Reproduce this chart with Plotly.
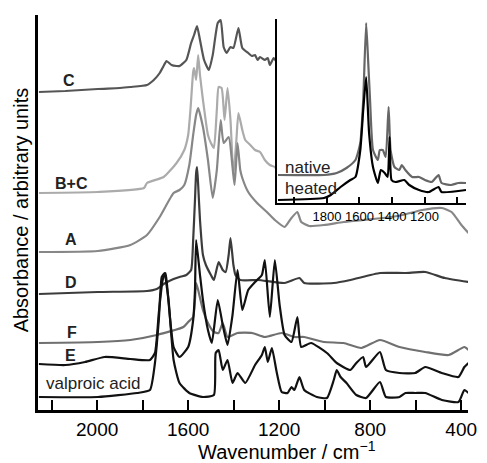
import plotly.graph_objects as go

# ---------------- data (wavenumber / cm-1, absorbance arbitrary units, offset stacked) -------------
c_x = [2256, 2140, 1997, 1900, 1854, 1781, 1751, 1725, 1708, 1695, 1673, 1651, 1638, 1608, 1587, 1574,
       1561, 1548, 1530, 1509, 1492, 1470, 1457, 1444, 1431, 1414, 1401, 1379, 1362, 1336, 1320, 1306,
       1295, 1284, 1263, 1250, 1241, 1224, 1211]
c_y = [3.18, 3.19, 3.21, 3.22, 3.23, 3.25, 3.30, 3.37, 3.44, 3.49, 3.45, 3.44, 3.44, 3.50, 3.67, 3.75,
       3.84, 3.70, 3.50, 3.40, 3.55, 3.87, 3.90, 3.63, 3.57, 3.63, 3.62, 3.82, 3.62, 3.57, 3.54, 3.55,
       3.50, 3.53, 3.50, 3.52, 3.45, 3.52, 3.48]

bc_x = [2256, 1997, 1794, 1781, 1708, 1651, 1617, 1600, 1590, 1578, 1574, 1565, 1556, 1548, 1535, 1513,
        1500, 1487, 1474, 1466, 1453, 1440, 1427, 1414, 1401, 1388, 1379, 1362, 1349, 1327, 1306, 1284,
        1263, 1241, 1219, 1211]
bc_y = [2.17, 2.18, 2.22, 2.27, 2.33, 2.47, 2.60, 2.75, 3.00, 3.38, 3.42, 3.30, 3.55, 3.35, 3.10, 2.75,
        2.67, 2.62, 3.00, 3.23, 3.22, 2.90, 3.22, 2.90, 2.35, 2.70, 2.97, 2.80, 2.70, 2.65, 2.60, 2.58,
        2.50, 2.45, 2.43, 2.40]

a_x = [2256, 1997, 1854, 1781, 1725, 1664, 1638, 1617, 1595, 1578, 1565, 1556, 1535, 1513, 1492, 1474,
       1457, 1444, 1422, 1405, 1396, 1383, 1371, 1362, 1336, 1297, 1254, 1219, 1176, 1146, 1120, 1103,
       1068, 1003, 917, 831, 744, 658, 571, 485, 442, 399, 368]
a_y = [1.58, 1.59, 1.65, 1.75, 1.93, 2.17, 2.20, 2.25, 2.45, 2.75, 2.95, 3.02, 2.83, 2.50, 2.12, 2.40,
       2.90, 2.67, 2.73, 2.43, 2.25, 2.67, 2.40, 2.32, 2.18, 2.07, 1.98, 1.90, 1.83, 1.92, 1.98, 1.88,
       1.84, 1.85, 1.88, 1.90, 1.92, 1.95, 2.00, 2.02, 1.98, 1.85, 1.77]

d_x = [2256, 1997, 1781, 1738, 1708, 1664, 1638, 1608, 1587, 1578, 1570, 1565, 1561, 1556, 1548, 1535,
       1522, 1500, 1487, 1466, 1448, 1435, 1422, 1414, 1401, 1392, 1371, 1293, 1176, 1111, 1090, 960,
       887, 757, 645, 558, 472, 368]
d_y = [1.16, 1.18, 1.19, 1.21, 1.26, 1.31, 1.33, 1.35, 1.40, 1.70, 2.10, 2.37, 2.43, 2.25, 1.90, 1.55,
       1.45, 1.35, 1.30, 1.48, 1.40, 1.38, 1.55, 1.72, 1.45, 1.35, 1.30, 1.30, 1.27, 1.32, 1.27, 1.27,
       1.30, 1.37, 1.37, 1.38, 1.32, 1.28]

f_x = [2256, 1997, 1854, 1738, 1621, 1600, 1578, 1570, 1565, 1556, 1535, 1513, 1487, 1466, 1448, 1427,
       1383, 1319, 1263, 1189, 1133, 1090, 1003, 917, 839, 757, 671, 558, 455, 386, 368]
f_y = [0.67, 0.68, 0.70, 0.75, 0.83, 0.88, 0.93, 1.10, 1.27, 1.20, 1.00, 0.87, 0.78, 0.77, 0.87, 0.73,
       0.77, 0.77, 0.73, 0.77, 0.73, 0.73, 0.68, 0.67, 0.62, 0.70, 0.63, 0.58, 0.55, 0.63, 0.60]

e_x = [2256, 2140, 2053, 1967, 1854, 1768, 1746, 1729, 1712, 1699, 1686, 1664, 1638, 1600, 1578, 1570,
       1565, 1548, 1535, 1513, 1496, 1470, 1448, 1427, 1405, 1383, 1362, 1336, 1306, 1276, 1263, 1241,
       1219, 1198, 1176, 1146, 1120, 1103, 1060, 990, 947, 887, 861, 831, 818, 757, 731, 671, 602, 558,
       485, 412, 386, 368]
e_y = [0.46, 0.45, 0.48, 0.53, 0.51, 0.50, 0.57, 0.97, 1.30, 1.37, 1.07, 0.63, 0.53, 0.63, 0.90, 1.20,
       1.70, 1.35, 1.10, 0.80, 0.67, 1.10, 0.85, 0.65, 0.95, 1.40, 1.00, 1.20, 1.28, 1.35, 1.50, 0.93,
       1.50, 1.05, 0.75, 0.68, 0.93, 0.63, 0.67, 0.57, 0.47, 0.40, 0.47, 0.53, 0.43, 0.58, 0.40, 0.37,
       0.37, 0.43, 0.37, 0.33, 0.43, 0.47]

v_x = [2256, 1997, 1824, 1768, 1746, 1729, 1716, 1703, 1695, 1686, 1664, 1638, 1595, 1535, 1487, 1479,
       1466, 1448, 1427, 1405, 1383, 1349, 1306, 1276, 1263, 1250, 1232, 1211, 1189, 1163, 1146, 1133,
       1111, 1090, 1034, 990, 960, 947, 930, 904, 861, 818, 757, 731, 671, 645, 602, 558, 485, 412, 386,
       368]
v_y = [0.13, 0.13, 0.17, 0.20, 0.47, 0.90, 1.33, 1.37, 1.25, 1.10, 0.50, 0.27, 0.17, 0.13, 0.15, 0.57,
       0.60, 0.40, 0.50, 0.27, 0.37, 0.27, 0.45, 0.55, 0.63, 0.48, 0.62, 0.38, 0.18, 0.17, 0.23, 0.20,
       0.33, 0.20, 0.13, 0.12, 0.30, 0.40, 0.33, 0.27, 0.15, 0.12, 0.28, 0.13, 0.13, 0.17, 0.17, 0.17,
       0.10, 0.08, 0.20, 0.17]

# inset
nat_x = [2101, 1818, 1740, 1680, 1625, 1595, 1577, 1559, 1547, 1535, 1517, 1487, 1475, 1457, 1439, 1421,
         1409, 1385, 1355, 1340, 1318, 1276, 1234, 1198, 1156, 1114, 1096, 1037, 993, 945]
nat_y = [0.28, 0.28, 0.30, 0.35, 0.43, 0.60, 1.03, 1.80, 1.43, 1.03, 0.53, 0.43, 0.53, 0.53, 0.46, 0.96,
         0.53, 0.36, 0.33, 0.38, 0.33, 0.26, 0.26, 0.23, 0.21, 0.28, 0.20, 0.18, 0.20, 0.20]
heat_x = [2101, 1818, 1776, 1716, 1656, 1625, 1595, 1577, 1559, 1541, 1517, 1487, 1469, 1445, 1427, 1415,
          1403, 1379, 1324, 1294, 1234, 1174, 1114, 1096, 945]
heat_y = [0.03, 0.05, 0.08, 0.16, 0.23, 0.26, 0.53, 0.93, 1.26, 0.70, 0.36, 0.20, 0.33, 0.30, 0.26, 0.66,
          0.23, 0.21, 0.23, 0.18, 0.13, 0.11, 0.16, 0.11, 0.13]

main_major = [2000, 1600, 1200, 800, 400]
main_minor = [2200, 1800, 1400, 1000, 600]
inset_major = [1800, 1600, 1400, 1200]
inset_minor = [2000, 1000]

series = [
    ("C", c_x, c_y, "#555555"),
    ("B+C", bc_x, bc_y, "#ababab"),
    ("A", a_x, a_y, "#878787"),
    ("D", d_x, d_y, "#3c3c3c"),
    ("F", f_x, f_y, "#707070"),
    ("E", e_x, e_y, "#111111"),
    ("valproic acid", v_x, v_y, "#111111"),
]

# ---------------- figure -------------
W, H = 487, 463
ML, MR, MT, MB = 38, 10, 15, 53
PW, PH = W - ML - MR, H - MT - MB


def px(x):
    return (x - ML) / PW


def py(y):
    return (H - MB - y) / PH


fig = go.Figure()
for name, xs, ys, col in series:
    fig.add_trace(go.Scatter(x=xs, y=ys, mode="lines", name=name,
                             line=dict(color=col, width=2.2, shape="spline", smoothing=0.5),
                             xaxis="x", yaxis="y"))

fig.add_trace(go.Scatter(x=nat_x, y=nat_y, mode="lines", name="native",
                         line=dict(color="#666666", width=2.2, shape="spline", smoothing=0.5),
                         xaxis="x2", yaxis="y2"))
fig.add_trace(go.Scatter(x=heat_x, y=heat_y, mode="lines", name="heated",
                         line=dict(color="#000000", width=2.2, shape="spline", smoothing=0.5),
                         xaxis="x2", yaxis="y2"))

font_main = "Liberation Sans, Arial, sans-serif"

fig.update_layout(
    width=W, height=H,
    margin=dict(l=ML, r=MR, t=MT, b=MB),
    paper_bgcolor="white", plot_bgcolor="white",
    showlegend=False,
    font=dict(family=font_main, color="black", size=19),
    xaxis=dict(domain=[0, 1], range=[2260, 370], tickmode="array", tickvals=main_major,
               ticks="inside", ticklen=10, tickwidth=2, tickcolor="black", tickangle=0,
               minor=dict(tickmode="array", tickvals=main_minor, ticks="inside", ticklen=10,
                          tickwidth=2, tickcolor="black", showgrid=False),
               showline=True, linewidth=2.5, linecolor="black", showgrid=False, zeroline=False,
               tickfont=dict(size=19)),
    yaxis=dict(domain=[0, 1], range=[0, 3.95], showticklabels=False, ticks="", showline=True,
               linewidth=2.5, linecolor="black", showgrid=False, zeroline=False),
    xaxis2=dict(domain=[px(282), px(475)], anchor="y2", range=[2107, 945], tickmode="array",
                tickvals=inset_major, ticks="inside", ticklen=6, tickangle=0,
                tickwidth=2, tickcolor="black",
                minor=dict(tickmode="array", tickvals=inset_minor, ticks="inside", ticklen=6,
                           tickwidth=2, tickcolor="black", showgrid=False),
                showline=True, linewidth=2, linecolor="black",
                showgrid=False, zeroline=False, tickfont=dict(size=13)),
    yaxis2=dict(domain=[py(203), py(19)], anchor="x2", range=[0, 1.84], showticklabels=False,
                ticks="", showline=True, linewidth=2, linecolor="black", showgrid=False,
                zeroline=False),
)

labels = [
    ("<b>C</b>", 70, 80, 16),
    ("<b>B+C</b>", 72, 183, 16),
    ("<b>A</b>", 72, 240, 16),
    ("<b>D</b>", 72, 282, 16),
    ("<b>F</b>", 73, 332, 16),
    ("<b>E</b>", 71, 355, 16),
    ("valproic acid", 95, 383, 17),
    ("native", 313, 167, 17),
    ("heated", 317, 188, 17),
]
for txt, x, y, s in labels:
    fig.add_annotation(text=txt, x=px(x), y=py(y), xref="paper", yref="paper",
                       showarrow=False, font=dict(size=s, color="#222222"),
                       xanchor="center", yanchor="middle")

fig.add_annotation(text="Wavenumber / cm<sup>\u22121</sup>", x=px(292), y=py(450), xref="paper",
                   yref="paper", showarrow=False, font=dict(size=20), xanchor="center",
                   yanchor="middle")
fig.add_annotation(text="Absorbance / arbitrary units", x=px(21), y=py(210), xref="paper",
                   yref="paper", showarrow=False, textangle=-90, font=dict(size=20),
                   xanchor="center", yanchor="middle")

fig.write_html("out.html")
